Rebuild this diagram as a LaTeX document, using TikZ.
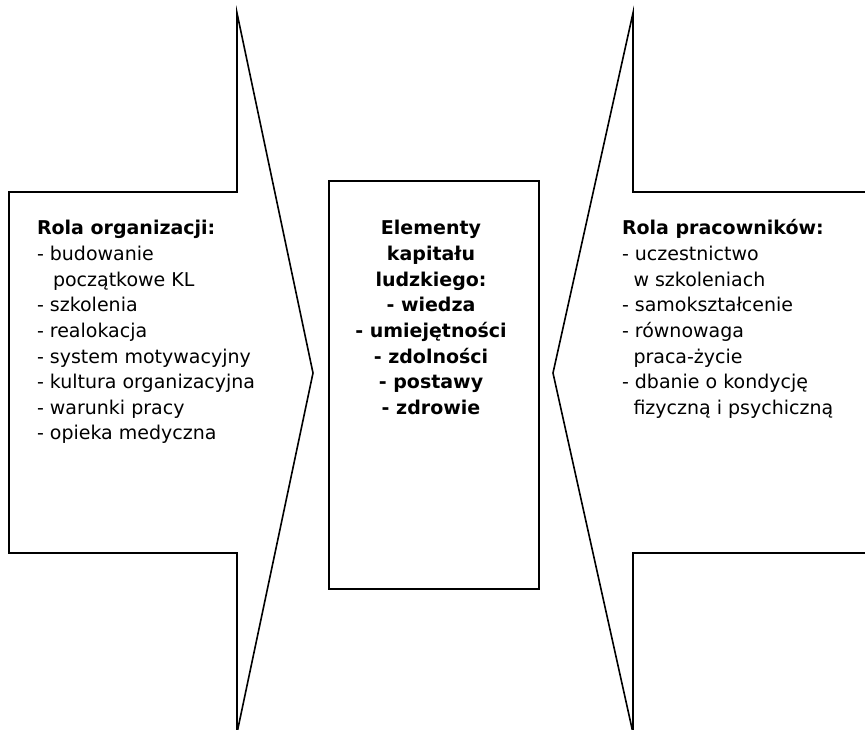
\documentclass[tikz,border=0pt]{standalone}
\usepackage{fontspec}
\setmainfont{DejaVu Sans}
\begin{document}
\begin{tikzpicture}[x=1pt,y=-1pt,
  outline/.style={draw=black, line width=1.6pt, line join=miter},
  txt/.style={inner sep=0pt, outer sep=0pt, anchor=base west, font=\fontsize{19}{25.6}\selectfont},
  ctxt/.style={inner sep=0pt, outer sep=0pt, anchor=base, font=\fontsize{19}{25.6}\selectfont\bfseries}]
\useasboundingbox (0,0) rectangle (865,730);
\clip (0,0) rectangle (865,730);
% left arrow
\draw[outline] (9,192) -- (237,192) -- (237,13) -- (313,373) -- (237,733) -- (237,553) -- (9,553) -- cycle;
% right arrow
\draw[outline] (880,192) -- (633,192) -- (633,13) -- (553,373) -- (633,733) -- (633,553) -- (880,553);
% centre box
\draw[outline] (329,181) rectangle (539,589);
% left text
\def\lx{37}
\node[txt] (l0) at (\lx,235.0) {\textbf{Rola organizacji:}};
\node[txt] (l1) at (\lx,260.6) {- budowanie};
\node[txt] (l2) at (\lx+16,286.2) {początkowe KL};
\node[txt] (l3) at (\lx,311.8) {- szkolenia};
\node[txt] (l4) at (\lx,337.4) {- realokacja};
\node[txt] (l5) at (\lx,363.0) {- system motywacyjny};
\node[txt] (l6) at (\lx,388.6) {- kultura organizacyjna};
\node[txt] (l7) at (\lx,414.2) {- warunki pracy};
\node[txt] (l8) at (\lx,439.8) {- opieka medyczna};
% right text
\def\rx{622}
\node[txt] (r0) at (\rx,235.0) {\textbf{Rola pracowników:}};
\node[txt] (r1) at (\rx,260.6) {- uczestnictwo};
\node[txt] (r2) at (\rx+11.5,286.2) {w szkoleniach};
\node[txt] (r3) at (\rx,311.8) {- samokształcenie};
\node[txt] (r4) at (\rx,337.4) {- równowaga};
\node[txt] (r5) at (\rx+11.5,363.0) {praca-życie};
\node[txt] (r6) at (\rx,388.6) {- dbanie o kondycję};
\node[txt] (r7) at (\rx+11.5,414.2) {fizyczną i psychiczną};
% centre text
\def\cx{431}
\node[ctxt] (c0) at (\cx,235.0) {Elementy};
\node[ctxt] (c1) at (\cx,260.6) {kapitału};
\node[ctxt] (c2) at (\cx,286.2) {ludzkiego:};
\node[ctxt] (c3) at (\cx,311.8) {- wiedza};
\node[ctxt] (c4) at (\cx,337.4) {- umiejętności};
\node[ctxt] (c5) at (\cx,363.0) {- zdolności};
\node[ctxt] (c6) at (\cx,388.6) {- postawy};
\node[ctxt] (c7) at (\cx,414.2) {- zdrowie};
\end{tikzpicture}
\end{document}
